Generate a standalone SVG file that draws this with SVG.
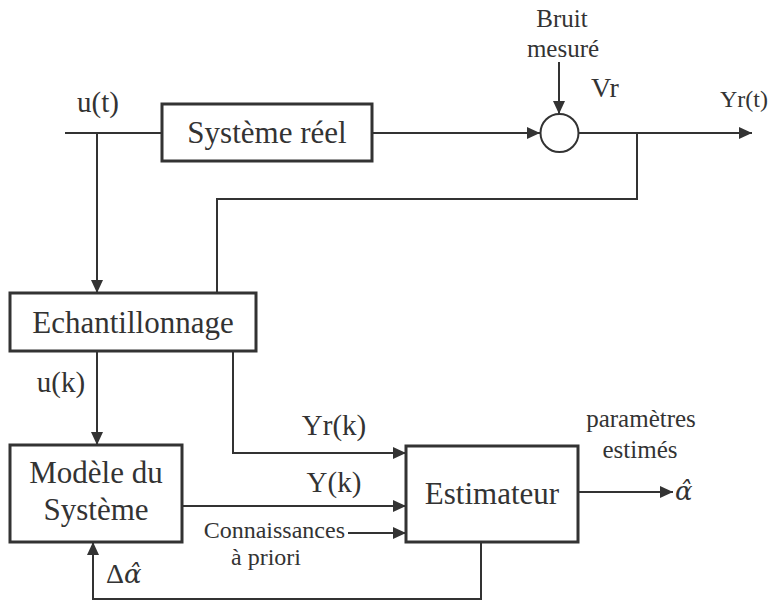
<svg xmlns="http://www.w3.org/2000/svg" width="770" height="602" viewBox="0 0 770 602">
<defs>
<marker id="ah" markerUnits="userSpaceOnUse" markerWidth="14" markerHeight="12" refX="13" refY="6" orient="auto">
<path d="M0,0 L13,6 L0,12 z" fill="#333"/>
</marker>
</defs>
<style>
.box{fill:#fff;stroke:#333;stroke-width:3}
.ln{fill:none;stroke:#333;stroke-width:2}
.ar{marker-end:url(#ah)}
text{font-family:"Liberation Serif","Times New Roman",serif;fill:#333}
.c{text-anchor:middle}
.al{font-family:"DejaVu Serif",serif;font-style:italic}
</style>
<rect width="770" height="602" fill="#fff"/>
<g id="connectors">
<path class="ln" d="M65,133 H162"/>
<path class="ln ar" d="M97,133 V293"/>
<path class="ln ar" d="M372,133 H540"/>
<path class="ln ar" d="M559,62 V114"/>
<path class="ln ar" d="M578,133 H752"/>
<path class="ln" d="M637,133 V199 H217 V293"/>
<path class="ln ar" d="M97,351 V445"/>
<path class="ln ar" d="M233,351 V453 H406"/>
<path class="ln ar" d="M182,506 H406"/>
<path class="ln ar" d="M348,533 H406"/>
<path class="ln ar" d="M578,492 H673"/>
<path class="ln ar" d="M481,542 V599 H93 V542"/>
</g>
<g id="systeme-reel">
<rect class="box" x="162" y="104" width="210" height="57"/>
<text class="c" x="267" y="143" font-size="31">Système réel</text>
</g>
<g id="sommateur">
<circle cx="559.5" cy="133" r="19" fill="#fff" stroke="#333" stroke-width="2"/>
</g>
<g id="echantillonnage">
<rect class="box" x="10" y="293" width="246" height="58"/>
<text class="c" x="133" y="333" font-size="31">Echantillonnage</text>
</g>
<g id="modele">
<rect class="box" x="10" y="445" width="172" height="97"/>
<text class="c" x="96" y="483" font-size="31">Modèle du</text>
<text class="c" x="96" y="520" font-size="31">Système</text>
</g>
<g id="estimateur">
<rect class="box" x="406" y="446" width="172" height="96"/>
<text class="c" x="492" y="504" font-size="31">Estimateur</text>
</g>
<g id="labels">
<text class="c" x="98" y="112" font-size="29">u(t)</text>
<text class="c" x="562" y="27" font-size="25">Bruit</text>
<text class="c" x="563" y="57" font-size="25">mesuré</text>
<text x="591" y="97" font-size="28">Vr</text>
<text x="720" y="107" font-size="24">Yr(t)</text>
<text class="c" x="61" y="392" font-size="29">u(k)</text>
<text class="c" x="334" y="435" font-size="29">Yr(k)</text>
<text class="c" x="334" y="492" font-size="29">Y(k)</text>
<text x="345" y="538" font-size="24" text-anchor="end">Connaissances</text>
<text class="c" x="266" y="565" font-size="24">à priori</text>
<text class="c" x="641" y="427" font-size="25">paramètres</text>
<text class="c" x="640" y="458" font-size="25">estimés</text>
<text class="al" x="675" y="500" font-size="26">α̂</text>
<text x="106" y="583" font-size="28">Δ<tspan class="al" font-size="26">α̂</tspan></text>
</g>
</svg>
